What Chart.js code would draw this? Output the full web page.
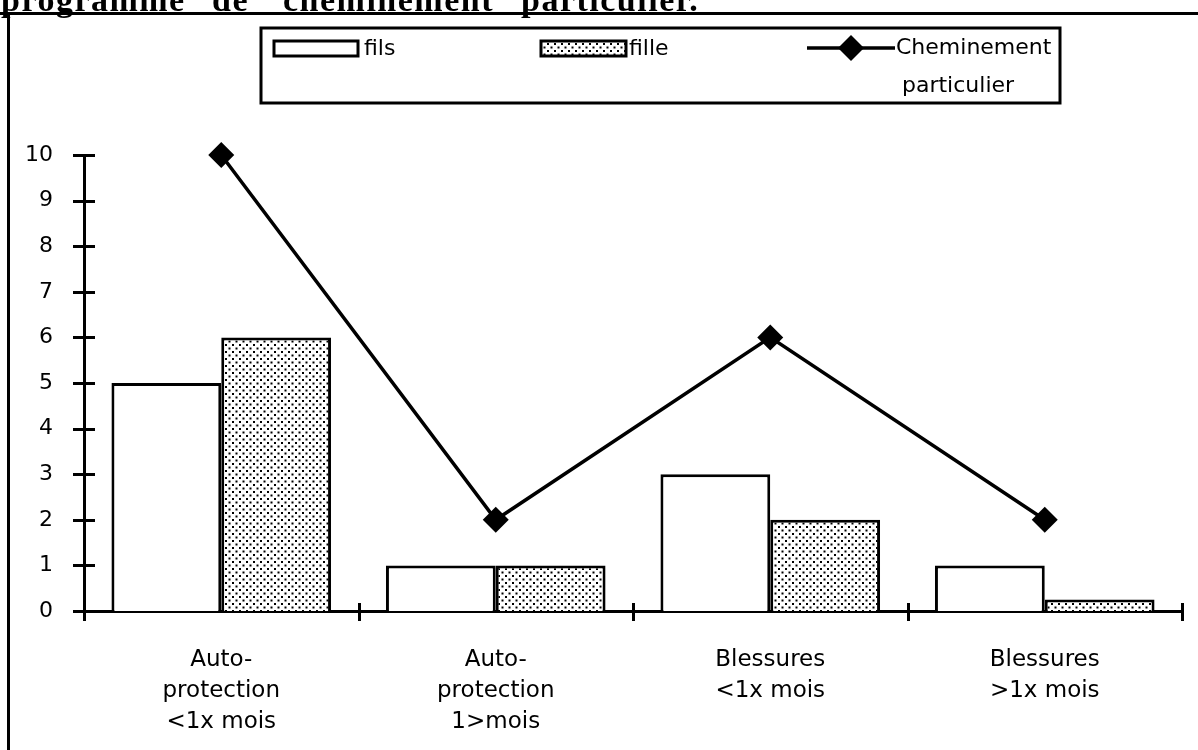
<!DOCTYPE html>
<html>
<head>
<meta charset="utf-8">
<script src="https://cdn.jsdelivr.net/npm/chart.js@4/dist/chart.umd.min.js"></script>
<style>
  html, body { margin: 0; padding: 0; background: #fff; }
  #wrap { width: 1198px; height: 750px; }
</style>
</head>
<body>
<div id="wrap"><canvas id="c" width="1198" height="750"></canvas></div>
<script>
// Categories (multi-line axis labels)
const categories = [
  ['Auto-', 'protection', '<1x mois'],
  ['Auto-', 'protection', '1>mois'],
  ['Blessures', '<1x mois'],
  ['Blessures', '>1x mois']
];
// Series
const filsValues = [5, 1, 3, 1];
const filleValues = [6, 1, 2, 0.25];
const cheminementValues = [10, 2, 6, 2];
// Value axis
const yMin = 0;
const yMax = 10;
const yStep = 1;

const FONT = '"DejaVu Sans", Verdana, sans-serif';

// Stippled fill used for the "fille" bars
function dotPattern() {
  const c = document.createElement('canvas');
  c.width = 7; c.height = 7;
  const g = c.getContext('2d');
  g.fillStyle = '#fff';
  g.fillRect(0, 0, 7, 7);
  g.fillStyle = '#000';
  g.fillRect(1, 1, 2, 2);
  g.fillRect(4.5, 4.5, 2, 2);
  return g.createPattern(c, 'repeat');
}
const dots = dotPattern();

// White page, clipped heading, frame and boxed legend
const pageDecor = {
  id: 'pageDecor',
  beforeDraw(chart) {
    const ctx = chart.ctx;
    ctx.save();
    ctx.fillStyle = '#fff';
    ctx.fillRect(0, 0, chart.width, chart.height);
    ctx.restore();
  },
  afterDraw(chart) {
    const ctx = chart.ctx;
    ctx.save();

    // heading of the page (its upper half falls outside the sheet)
    ctx.fillStyle = '#000';
    ctx.font = 'bold 34px "Liberation Serif", "DejaVu Serif", serif';
    ctx.textBaseline = 'alphabetic';
    ctx.letterSpacing = '1.5px';
    [['programme', 1], ['de', 212], ['cheminement', 283], ['particulier.', 521]]
      .forEach(([w, x]) => ctx.fillText(w, x, 11));
    ctx.letterSpacing = '0px';

    // frame
    ctx.strokeStyle = '#000';
    ctx.lineWidth = 3;
    ctx.beginPath();
    ctx.moveTo(0, 13.5); ctx.lineTo(1198, 13.5);
    ctx.moveTo(8.5, 12); ctx.lineTo(8.5, 750);
    ctx.stroke();

    // legend
    const ds = chart.data.datasets;
    ctx.lineWidth = 3;
    ctx.strokeRect(261, 28, 799, 75);
    ctx.font = '22px ' + FONT;
    ctx.textBaseline = 'middle';
    ctx.textAlign = 'left';

    // fils swatch
    ctx.fillStyle = ds[0].backgroundColor;
    ctx.fillRect(274, 41, 84, 15);
    ctx.lineWidth = 3;
    ctx.strokeStyle = ds[0].borderColor;
    ctx.strokeRect(274, 41, 84, 15);
    ctx.fillStyle = '#000';
    ctx.fillText(ds[0].label, 364, 49);

    // fille swatch
    ctx.fillStyle = ds[1].backgroundColor;
    ctx.fillRect(541, 41, 85, 15);
    ctx.strokeStyle = ds[1].borderColor;
    ctx.strokeRect(541, 41, 85, 15);
    ctx.fillStyle = '#000';
    ctx.fillText(ds[1].label, 629, 49);

    // line + diamond swatch
    ctx.strokeStyle = ds[2].borderColor;
    ctx.lineWidth = 3.5;
    ctx.beginPath();
    ctx.moveTo(807, 48); ctx.lineTo(895, 48);
    ctx.stroke();
    ctx.fillStyle = ds[2].pointBackgroundColor;
    ctx.beginPath();
    ctx.moveTo(851, 35); ctx.lineTo(864, 48); ctx.lineTo(851, 61); ctx.lineTo(838, 48);
    ctx.closePath();
    ctx.fill();
    ctx.fillStyle = '#000';
    const parts = ds[2].label.split(' ');
    ctx.fillText(parts[0], 896, 48);
    ctx.fillText(parts[1], 902, 86);

    // crossing tick marks on both axes
    const xs = chart.scales.x, ys = chart.scales.y;
    ctx.strokeStyle = '#000';
    ctx.lineWidth = 3;
    ctx.beginPath();
    for (let v = yMin; v <= yMax; v += yStep) {
      const py = Math.round(ys.getPixelForValue(v)) + 0.5;
      ctx.moveTo(ys.right - 11, py); ctx.lineTo(ys.right + 11, py);
    }
    const n = categories.length;
    for (let i = 0; i <= n; i++) {
      const px = Math.round(xs.left + i * (xs.right - xs.left) / n) + 0.5;
      ctx.moveTo(px, xs.top - 8); ctx.lineTo(px, xs.top + 10);
    }
    ctx.stroke();
    ctx.restore();
  }
};

new Chart(document.getElementById('c'), {
  data: {
    labels: categories,
    datasets: [
      {
        type: 'bar',
        label: 'fils',
        data: filsValues,
        backgroundColor: '#ffffff',
        borderColor: '#000000',
        borderWidth: 3,
        borderSkipped: 'bottom',
        categoryPercentage: 0.8,
        barPercentage: 1.0,
        order: 2
      },
      {
        type: 'bar',
        label: 'fille',
        data: filleValues,
        backgroundColor: dots,
        borderColor: '#000000',
        borderWidth: 3,
        borderSkipped: 'bottom',
        categoryPercentage: 0.8,
        barPercentage: 1.0,
        order: 2
      },
      {
        type: 'line',
        label: 'Cheminement particulier',
        data: cheminementValues,
        borderColor: '#000000',
        borderWidth: 3.5,
        pointStyle: 'rectRot',
        pointRadius: 13,
        pointBorderWidth: 0,
        pointBackgroundColor: '#000000',
        pointBorderColor: '#000000',
        tension: 0,
        fill: false,
        clip: false,
        order: 0
      }
    ]
  },
  options: {
    responsive: false,
    animation: false,
    events: [],
    layout: { padding: { top: 155, right: 16, left: 0, bottom: 0 } },
    plugins: {
      legend: { display: false },
      title: { display: false },
      tooltip: { enabled: false }
    },
    scales: {
      x: {
        offset: true,
        grid: { display: false, drawTicks: false },
        border: { display: true, color: '#000', width: 3 },
        ticks: {
          color: '#000',
          font: { family: FONT, size: 23, lineHeight: '31px' },
          padding: 34,
          maxRotation: 0,
          autoSkip: false
        },
        afterFit(s) { s.height = 139; }
      },
      y: {
        min: yMin,
        max: yMax,
        grid: { display: false, drawTicks: false },
        border: { display: true, color: '#000', width: 3 },
        ticks: {
          stepSize: yStep,
          color: '#000',
          font: { family: FONT, size: 22 },
          padding: 31
        },
        afterFit(s) { s.width = 84; }
      }
    }
  },
  plugins: [pageDecor]
});
</script>
</body>
</html>
